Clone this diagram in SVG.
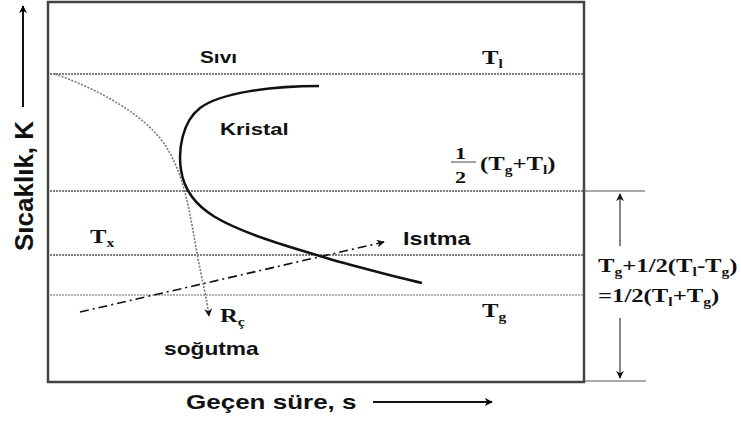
<svg xmlns="http://www.w3.org/2000/svg" width="741" height="421" viewBox="0 0 741 421">
<defs>
<marker id="ah" viewBox="0 0 10 10" refX="9" refY="5" markerWidth="4" markerHeight="4" orient="auto" markerUnits="strokeWidth"><path d="M0,0 L10,5 L0,10 L3,5 Z" fill="#000"/></marker>
<marker id="ahs" viewBox="0 0 10 10" refX="9" refY="5" markerWidth="8" markerHeight="8" orient="auto" markerUnits="userSpaceOnUse"><path d="M0,0 L10,5 L0,10 L3,5 Z" fill="#111"/></marker>
<style>
.sans{font-family:"Liberation Sans",Arial,sans-serif;font-weight:bold;fill:#111}
.serif{font-family:"Liberation Serif","Times New Roman",serif;font-weight:bold;fill:#111}
.dot{stroke:#555;stroke-width:1.6;stroke-dasharray:2,1;fill:none}
.dotl{stroke:#999;stroke-width:1.6;stroke-dasharray:2,1;fill:none}
.thin{stroke:#555;stroke-width:1.2;fill:none}
</style>
</defs>
<g id="frame">
<rect x="48" y="2" width="536" height="380" fill="none" stroke="#444" stroke-width="2.5"/>
</g>
<g id="levels">
<line class="dot" x1="50" y1="74" x2="583" y2="74"/>
<line class="dot" x1="50" y1="191" x2="583" y2="191"/>
<line class="dot" x1="50" y1="255" x2="583" y2="255"/>
<line class="dotl" x1="50" y1="295" x2="583" y2="295"/>
</g>
<g id="connectors">
<path id="kristal-curve" d="M319,86 C270,86 220,93 200,108 C182,122 178,150 181,170 C184,190 195,205 215,217 C245,235 300,250 340,262 C370,270 395,277 422,283" fill="none" stroke="#111" stroke-width="2.5"/>
<path id="cooling" d="M55,74 C100,90 145,115 165,145 C185,175 190,215 197,253 C202,280 207,300 209,316" fill="none" stroke="#777" stroke-width="1.6" stroke-dasharray="2,1.5" marker-end="url(#ahs)"/>
<line id="heating" x1="80" y1="312" x2="384" y2="242" stroke="#111" stroke-width="1.6" stroke-dasharray="9,4,2,4" marker-end="url(#ahs)"/>
<line id="y-arrow" x1="23" y1="107" x2="23" y2="6" stroke="#111" stroke-width="2" marker-end="url(#ah)"/>
<line id="x-arrow" x1="373" y1="402" x2="492" y2="402" stroke="#111" stroke-width="2" marker-end="url(#ah)"/>
<line class="thin" x1="584" y1="191" x2="645" y2="191"/>
<line class="thin" x1="584" y1="381" x2="646" y2="381"/>
<line id="br-up" x1="620" y1="246" x2="620" y2="194" stroke="#333" stroke-width="1.2" marker-end="url(#ahs)"/>
<line id="br-down" x1="620" y1="318" x2="620" y2="378" stroke="#333" stroke-width="1.2" marker-end="url(#ahs)"/>
</g>
<g id="labels">
<text class="sans" font-size="16" transform="translate(200,63) scale(1.3,1)">Sıvı</text>
<text class="sans" font-size="17" transform="translate(220,135) scale(1.3,1)">Kristal</text>
<text class="sans" font-size="18" transform="translate(403,245) scale(1.3,1)">Isıtma</text>
<text class="sans" font-size="17.5" transform="translate(164,355) scale(1.3,1)">soğutma</text>
<text class="sans" font-size="20" transform="translate(186,409) scale(1.3,1)">Geçen süre, s</text>
<text class="sans" font-size="20" transform="translate(33,251) rotate(-90) scale(1.3,1.3)">Sıcaklık, K</text>
<text class="serif" font-size="19" transform="translate(482,64) scale(1.3,1)">T<tspan font-size="12" dy="4">l</tspan></text>
<text class="serif" font-size="19" transform="translate(90,243) scale(1.3,1)">T<tspan font-size="12" dy="4">x</tspan></text>
<text class="serif" font-size="19" transform="translate(482,317) scale(1.3,1)">T<tspan font-size="12" dy="4">g</tspan></text>
<text class="serif" font-size="19" transform="translate(220,322) scale(1.3,1)">R<tspan font-size="12" dy="4">ç</tspan></text>
<g id="half">
<text class="serif" font-size="17" transform="translate(455,159) scale(1.3,1)">1</text>
<line x1="451" y1="162" x2="476" y2="162" stroke="#444" stroke-width="1"/>
<text class="serif" font-size="17" transform="translate(455,183) scale(1.3,1)">2</text>
<text class="serif" font-size="19" transform="translate(480,170) scale(1.3,1)">(T<tspan font-size="12" dy="4">g</tspan><tspan dy="-4">+T</tspan><tspan font-size="12" dy="4">l</tspan><tspan dy="-4">)</tspan></text>
</g>
<text class="serif" font-size="19" transform="translate(598,272) scale(1.3,1)">T<tspan font-size="12" dy="4">g</tspan><tspan dy="-4">+1/2(T</tspan><tspan font-size="12" dy="4">l</tspan><tspan dy="-4">-T</tspan><tspan font-size="12" dy="4">g</tspan><tspan dy="-4">)</tspan></text>
<text class="serif" font-size="19" transform="translate(598,302) scale(1.3,1)">=1/2(T<tspan font-size="12" dy="4">l</tspan><tspan dy="-4">+T</tspan><tspan font-size="12" dy="4">g</tspan><tspan dy="-4">)</tspan></text>
</g>
</svg>
